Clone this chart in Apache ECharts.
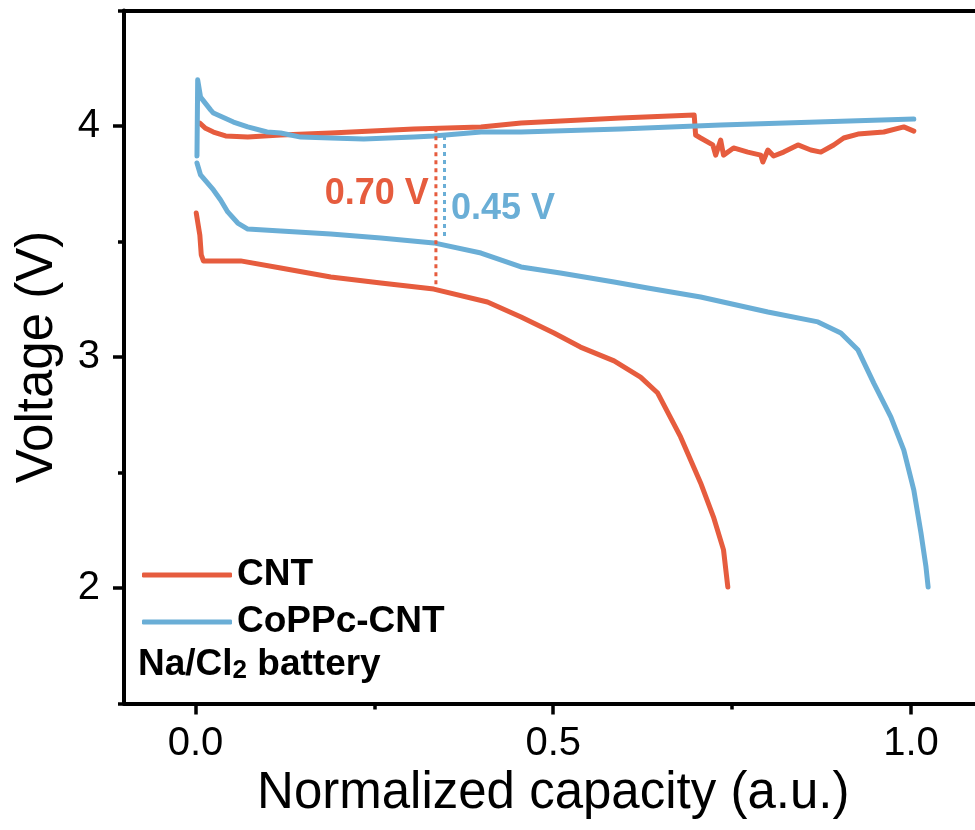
<!DOCTYPE html>
<html>
<head>
<meta charset="utf-8">
<title>Na/Cl2 battery</title>
<script src="https://cdn.jsdelivr.net/npm/echarts@6.0.0/dist/echarts.min.js"></script>
<style>
  html, body { margin: 0; padding: 0; background: #fff; }
  #chart { width: 975px; height: 830px; }
</style>
</head>
<body>
<div id="chart"></div>
<script>
// ---- data ----
var cntChargeX = [0.006, 0.014, 0.025, 0.042, 0.073, 0.119, 0.189, 0.305, 0.399, 0.455, 0.594, 0.697,
  0.699, 0.706, 0.723, 0.727, 0.734, 0.738, 0.752, 0.772, 0.79, 0.793, 0.8, 0.808, 0.822, 0.842,
  0.86, 0.874, 0.892, 0.906, 0.926, 0.962, 0.99, 1.004];
var cntChargeV = [4.012, 3.99, 3.974, 3.957, 3.952, 3.961, 3.97, 3.987, 3.996, 4.013, 4.035, 4.048,
  3.961, 3.948, 3.918, 3.874, 3.939, 3.874, 3.905, 3.887, 3.874, 3.844, 3.896, 3.87, 3.887, 3.918,
  3.896, 3.887, 3.918, 3.948, 3.965, 3.974, 3.996, 3.978];

var cntDischargeX = [0.001, 0.006, 0.008, 0.011, 0.025, 0.063, 0.119, 0.189, 0.259, 0.333, 0.408,
  0.455, 0.501, 0.538, 0.585, 0.622, 0.646, 0.678, 0.706, 0.724, 0.738, 0.744];
var cntDischargeV = [3.623, 3.528, 3.442, 3.416, 3.416, 3.416, 3.385, 3.346, 3.32, 3.294, 3.238,
  3.173, 3.104, 3.043, 2.983, 2.913, 2.844, 2.654, 2.455, 2.307, 2.165, 2.004];

var copcChargeX = [0.002, 0.003, 0.007, 0.021, 0.025, 0.053, 0.073, 0.1, 0.119, 0.147, 0.189, 0.235,
  0.305, 0.333, 0.399, 0.455, 0.594, 0.734, 1.004];
var copcChargeV = [3.87, 4.2, 4.125, 4.07, 4.056, 4.017, 3.996, 3.974, 3.97, 3.952, 3.948, 3.944,
  3.952, 3.957, 3.974, 3.974, 3.987, 4.004, 4.03];

var copcDischargeX = [0.002, 0.007, 0.025, 0.035, 0.045, 0.059, 0.073, 0.119, 0.189, 0.259, 0.333,
  0.399, 0.455, 0.51, 0.585, 0.632, 0.706, 0.8, 0.87, 0.902, 0.926, 0.948, 0.972, 0.99, 1.004,
  1.014, 1.021, 1.024];
var copcDischargeV = [3.84, 3.788, 3.723, 3.68, 3.628, 3.58, 3.554, 3.545, 3.532, 3.515, 3.494,
  3.45, 3.39, 3.364, 3.325, 3.299, 3.26, 3.195, 3.152, 3.104, 3.03, 2.887, 2.74, 2.597, 2.424,
  2.238, 2.091, 2.004];

// voltage-gap markers (dotted verticals) and their labels
var gapX = [0.336, 0.348];
var gapTop = [3.99, 3.957];
var gapBottom = [3.303, 3.515];
var gapText = ['0.70 V', '0.45 V'];
var gapTextX = [0.326, 0.357];
var gapTextV = [3.705, 3.64];

var xTicks = [0, 0.5, 1.0];
var xMinorTicks = [0.25, 0.75];
var yTicks = [2, 3, 4];
var yMinorTicks = [1.5, 2.5, 3.5, 4.5];

var RED = '#E65C3E';
var BLUE = '#6AAED6';
var FONT = 'Liberation Sans';

function pairs(xs, ys) {
  return xs.map(function (x, i) { return [x, ys[i]]; });
}

function curve(name, xs, ys, color) {
  return {
    name: name, type: 'line', data: pairs(xs, ys),
    symbol: 'none', showSymbol: false, silent: true,
    lineStyle: { width: 5, color: color, cap: 'round', join: 'round' },
    itemStyle: { color: color }
  };
}

function gapLine(i, color) {
  return {
    type: 'line', data: [[gapX[i], gapTop[i]], [gapX[i], gapBottom[i]]],
    symbol: 'none', silent: true,
    lineStyle: { width: 3, color: color, type: [4, 4] }
  };
}

function gapLabel(i, color, pos) {
  return {
    type: 'scatter', data: [[gapTextX[i], gapTextV[i]]], symbolSize: 0, silent: true,
    itemStyle: { opacity: 1, color: color },
    label: {
      show: true, position: pos, distance: 0, formatter: gapText[i], opacity: 1,
      color: color, fontSize: 36, fontWeight: 'bold', fontFamily: FONT
    }
  };
}

var axisBlack = { color: '#000', width: 4 };
var tickBlack = { color: '#000', width: 3.5 };
var X_MIN = -0.1, X_MAX = 1.1, Y_MIN = 1.5, Y_MAX = 4.5;

var chart = echarts.init(document.getElementById('chart'));
chart.setOption({
  animation: false,
  backgroundColor: '#fff',
  color: [RED, BLUE],
  textStyle: { fontFamily: FONT },
  grid: { left: 124, right: -7.5, top: 10.5, bottom: 126.5, outerBoundsMode: 'none', containLabel: false },
  xAxis: [{
    type: 'value', position: 'bottom', min: X_MIN, max: X_MAX,
    name: 'Normalized capacity (a.u.)', nameLocation: 'middle', nameGap: 63,
    nameTextStyle: { fontSize: 51, color: '#000', fontFamily: FONT },
    axisLine: { onZero: false, lineStyle: axisBlack },
    axisTick: { customValues: xTicks, length: 11, inside: false, lineStyle: tickBlack },
    axisLabel: {
      customValues: xTicks, margin: 20, fontSize: 40, color: '#000', fontFamily: FONT,
      formatter: function (v) { return v.toFixed(1); }
    },
    splitLine: { show: false }
  }, {
    type: 'value', position: 'bottom', min: X_MIN, max: X_MAX,
    axisLine: { show: false, onZero: false },
    axisTick: { customValues: xMinorTicks, length: 6, lineStyle: tickBlack },
    axisLabel: { show: false },
    splitLine: { show: false }
  }, {
    type: 'value', position: 'top', min: X_MIN, max: X_MAX,
    axisLine: { onZero: false, lineStyle: axisBlack },
    axisTick: { show: false },
    axisLabel: { show: false },
    splitLine: { show: false }
  }],
  yAxis: [{
    type: 'value', position: 'left', min: Y_MIN, max: Y_MAX,
    name: 'Voltage (V)', nameLocation: 'middle', nameGap: 61,
    nameTextStyle: { fontSize: 51, color: '#000', fontFamily: FONT },
    axisLine: { onZero: false, lineStyle: axisBlack },
    axisTick: { customValues: yTicks, length: 11, lineStyle: tickBlack },
    axisLabel: { customValues: yTicks, margin: 24, fontSize: 40, color: '#000', fontFamily: FONT },
    splitLine: { show: false }
  }, {
    type: 'value', position: 'left', min: Y_MIN, max: Y_MAX,
    axisLine: { show: false, onZero: false },
    axisTick: { customValues: yMinorTicks, length: 6, lineStyle: tickBlack },
    axisLabel: { show: false },
    splitLine: { show: false }
  }],
  legend: {
    data: ['CNT', 'CoPPc-CNT'],
    orient: 'vertical', left: 142, top: 555, padding: 0,
    icon: 'roundRect', itemWidth: 90, itemHeight: 5, itemGap: 7,
    selectedMode: false,
    textStyle: { fontSize: 37, fontWeight: 'bold', color: '#000', fontFamily: FONT, lineHeight: 40 }
  },
  graphic: [{
    type: 'text', left: 138, top: 646,
    style: {
      text: '{b|Na/Cl}{s|2}{b| battery}',
      rich: {
        b: { fontSize: 37, fontWeight: 'bold', fill: '#000', fontFamily: FONT, lineHeight: 38, padding: [0, 0, 10, 0], verticalAlign: 'top' },
        s: { fontSize: 26, fontWeight: 'bold', fill: '#000', fontFamily: FONT, lineHeight: 26, verticalAlign: 'bottom' }
      }
    }
  }],
  series: [
    curve('CNT', cntChargeX, cntChargeV, RED),
    curve('CNT', cntDischargeX, cntDischargeV, RED),
    curve('CoPPc-CNT', copcChargeX, copcChargeV, BLUE),
    curve('CoPPc-CNT', copcDischargeX, copcDischargeV, BLUE),
    gapLine(0, RED),
    gapLine(1, BLUE),
    gapLabel(0, RED, 'left'),
    gapLabel(1, BLUE, 'right')
  ]
});
</script>
</body>
</html>
